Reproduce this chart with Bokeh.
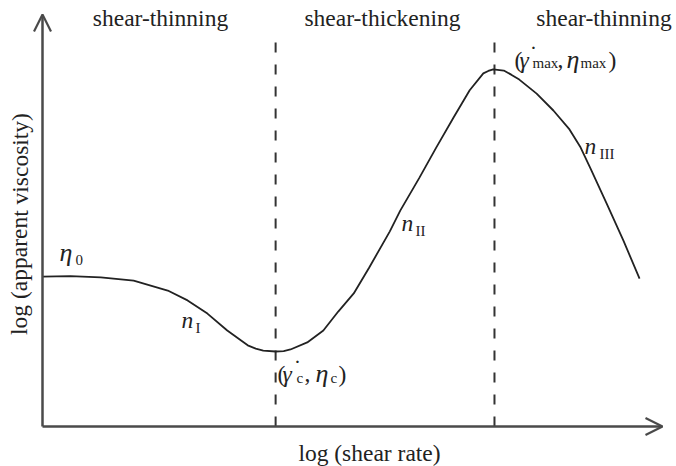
from bokeh.plotting import figure
from bokeh.models import Range1d, Arrow, OpenHead
from bokeh.core.properties import value
from bokeh.embed import file_html
from bokeh.resources import INLINE

# ---- schematic data (arbitrary log units; axes run 0..10) ----
log_shear_rate = [0.00, 0.45, 0.94, 1.47, 2.02, 2.34, 2.66, 2.98, 3.31, 3.44, 3.56,
                  3.76, 3.89, 4.00, 4.27, 4.53, 4.77, 5.02, 5.27, 5.60, 5.77, 6.08,
                  6.35, 6.63, 6.89, 7.11, 7.19, 7.27, 7.44, 7.56, 7.69, 7.97, 8.24,
                  8.50, 8.68, 8.84, 9.10, 9.37, 9.63]
log_viscosity = [3.64, 3.65, 3.62, 3.54, 3.30, 3.06, 2.74, 2.33, 1.97, 1.89, 1.84,
                 1.82, 1.83, 1.87, 2.04, 2.33, 2.79, 3.23, 3.86, 4.73, 5.24, 6.04,
                 6.77, 7.50, 8.16, 8.57, 8.63, 8.67, 8.64, 8.54, 8.42, 8.08, 7.67,
                 7.21, 6.77, 6.26, 5.41, 4.51, 3.59]
gamma_c = 3.76      # critical shear rate (viscosity minimum)
gamma_max = 7.29    # shear rate of viscosity maximum
axis_len = 10.0
region_labels = ["shear-thinning", "shear-thickening", "shear-thinning"]
x_label = "log (shear rate)"
y_label = "log (apparent viscosity)"

FONT = value("Liberation Serif")
INK = "#222222"
AX = "#4a4a4a"

# page-pixel helpers for annotation placement
def X(px):
    return (px - 42) / 62.0

def Y(py):
    return (426 - py) / 41.2

def YT(py):  # text baseline (compensates the renderer's baseline offset)
    return Y(py - 8)

p = figure(width=676, height=466, output_backend="svg", toolbar_location=None,
           x_range=Range1d(X(0), X(676)), y_range=Range1d(Y(466), Y(0)),
           min_border=0, min_border_left=0, min_border_right=0,
           min_border_top=0, min_border_bottom=0)
p.xaxis.visible = False
p.yaxis.visible = False
p.grid.visible = False
p.outline_line_color = None
p.background_fill_color = "white"
p.border_fill_color = "white"

# axes with open arrowheads
for xs, ys, xe, ye in [(0, 0, axis_len, 0), (0, 0, 0, axis_len)]:
    p.add_layout(Arrow(x_start=xs, y_start=ys, x_end=xe, y_end=ye,
                       line_color=AX, line_width=2.5,
                       end=OpenHead(size=17, line_color=AX, line_width=2.2)))

# dashed region boundaries
top = Y(31)
p.segment(x0=[gamma_c, gamma_max], y0=[0, 0], x1=[gamma_c, gamma_max], y1=[top, top],
          line_color="#333333", line_width=2, line_dash="10 12")

# viscosity curve
p.line(log_shear_rate, log_viscosity, line_color=INK, line_width=1.8)

# region labels
p.text(x=[X(160), X(382), X(603.5)], y=[YT(25)] * 3, text=region_labels,
       text_font=FONT, text_font_size="23.5px", text_color=INK,
       text_align="center", text_baseline="alphabetic")

# axis titles
p.text(x=[X(369)], y=[YT(460)], text=[x_label], text_font=FONT,
       text_font_size="23.5px", text_color=INK, text_align="center",
       text_baseline="alphabetic")
p.text(x=[X(19)], y=[Y(223.5)], text=[y_label], angle=1.5707963, text_font=FONT,
       text_font_size="23.5px", text_color=INK, text_align="center",
       text_baseline="alphabetic")

# italic eta (slightly larger, as in the reference)
p.text(x=[X(59), X(566), X(315)], y=[YT(260), YT(67), YT(381)],
       text=["\u03b7"] * 3, text_font=FONT, text_font_style="italic",
       text_font_size="26px", text_color=INK, text_align="left",
       text_baseline="alphabetic")

# italic n and gamma
it_txt = ["n", "n", "n", "\u03b3", "\u03b3"]
it_px = [181, 401, 584, 519, 282]
it_py = [327, 230, 153, 67, 381]
p.text(x=[X(v) for v in it_px], y=[YT(v) for v in it_py], text=it_txt,
       text_font=FONT, text_font_style="italic", text_font_size="23.5px",
       text_color=INK, text_align="left", text_baseline="alphabetic")

# dots over gamma
p.text(x=[X(533), X(297)], y=[YT(61), YT(375)], text=["\u02d9"] * 2,
       text_font=FONT, text_font_size="23.5px", text_color=INK,
       text_align="center", text_baseline="alphabetic")

# upright punctuation
up_txt = ["(", ",", ")", "(", ",", ")"]
up_px = [514, 557, 608, 277, 304, 338]
up_py = [67, 67, 67, 381, 381, 381]
p.text(x=[X(v) for v in up_px], y=[YT(v) for v in up_py], text=up_txt,
       text_font=FONT, text_font_size="23.5px", text_color=INK,
       text_align="left", text_baseline="alphabetic")

# subscripts
sb_txt = ["0", "I", "II", "III", "max", "max", "c", "c"]
sb_px = [75, 195, 415, 599, 532, 580, 296, 330]
sb_py = [267, 335, 238, 161, 70, 70, 385, 385]
p.text(x=[X(v) for v in sb_px], y=[YT(v) for v in sb_py], text=sb_txt,
       text_font=FONT, text_font_size="15px", text_color=INK,
       text_align="left", text_baseline="alphabetic")

open("out.html", "w").write(file_html(p, INLINE))
